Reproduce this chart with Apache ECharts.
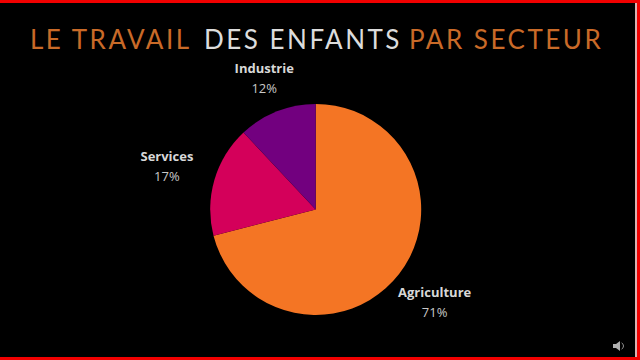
<!DOCTYPE html>
<html>
<head>
<meta charset="utf-8">
<style>
  html, body { margin: 0; padding: 0; background: #000; }
  #chart { width: 640px; height: 360px; }
  /* the title is the only 26px text, it is spaced out in the reference */
  #chart svg text[style*="26px"] { letter-spacing: 2.5px; }
</style>
<script src="https://cdn.jsdelivr.net/npm/echarts@6/dist/echarts.min.js"></script>
</head>
<body>
<div id="chart"></div>
<script>
const titleParts = ['LE TRAVAIL', 'DES ENFANTS', 'PAR SECTEUR']
const categories = ['Agriculture', 'Services', 'Industrie']
const values = [71, 17, 12]
const colors = ['#f47524', '#d4005a', '#72007f']

const ORANGE = '#c96a28'
const WHITE = '#dcdcdc'
const RED = '#f00000'
const titleStyle = (color) => ({
  color: color,
  fontFamily: 'Lato',
  fontSize: 26,
  fontWeight: 'normal'
})
const box = (x, y, width, height, fill) => ({
  type: 'rect', silent: true, shape: { x, y, width, height }, style: { fill }
})

const chart = echarts.init(document.getElementById('chart'), null, { renderer: 'svg' })

chart.setOption({
  backgroundColor: '#000',
  animation: false,
  title: [
    { text: titleParts[0], left: 30, top: 26, padding: 0, textStyle: titleStyle(ORANGE) },
    { text: titleParts[1], left: 204, top: 26, padding: 0, textStyle: titleStyle(WHITE) },
    { text: titleParts[2], left: 409, top: 26, padding: 0, textStyle: titleStyle(ORANGE) }
  ],
  graphic: [
    // cadre : haut, droite (filet clair + rouge), bas. Pas de bord a gauche
    box(0, 0, 640, 3, RED),
    box(635, 3, 2, 354, '#d8b0b0'),
    box(637, 0, 3, 360, RED),
    box(0, 357, 640, 3, RED),
    // icone haut-parleur
    { type: 'polygon', silent: true, shape: {
        points: [[613, 344], [616, 344], [620, 341], [620, 351], [616, 348], [613, 348]]
      }, style: { fill: '#b0b0b0' } },
    { type: 'arc', silent: true, shape: { cx: 620, cy: 346, r: 3.5, startAngle: -1.1, endAngle: 1.1 },
      style: { fill: 'none', stroke: '#909090', lineWidth: 1 } }
  ],
  series: [{
    type: 'pie',
    center: [315.7, 209.4],
    radius: [0, 105.5],
    startAngle: 90,
    clockwise: true,
    silent: true,
    color: colors,
    data: categories.map((name, i) => ({ name: name, value: values[i] })),
    label: {
      formatter: (p) => '{b|' + p.name + '}\n{v|' + p.value + '%}',
      rich: {
        b: { fontFamily: 'Open Sans', fontWeight: 'bold', fontSize: 13, color: '#d8d8d8', lineHeight: 20, align: 'center' },
        v: { fontFamily: 'Open Sans', fontSize: 13, color: '#c8c8c8', lineHeight: 20, align: 'center' }
      }
    },
    labelLine: { show: false, length: 0, length2: 0 },
    // décalage des étiquettes par rapport au bord du camembert
    labelLayout: (p) => [{ dx: -6, dy: 28 }, { dx: -16, dy: -14 }, { dx: 22, dy: -33 }][p.dataIndex]
  }]
})
</script>
</body>
</html>
